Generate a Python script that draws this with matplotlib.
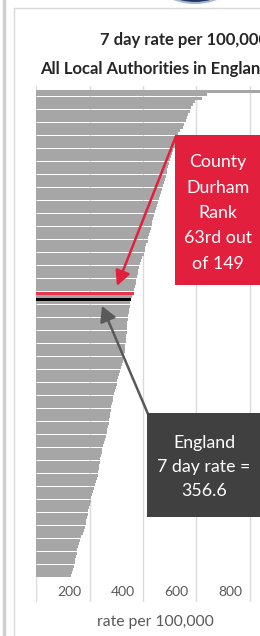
import matplotlib
matplotlib.use("Agg")
import matplotlib.pyplot as plt
import matplotlib.transforms as mtransforms
from matplotlib.patches import Rectangle, Ellipse
from matplotlib.lines import Line2D

plt.rcParams['font.family'] = ['Lato', 'DejaVu Sans']

# ---- data (7-day rate per 100,000, all 149 Local Authorities, sorted high to low) ----
la_rates = [884, 639, 621, 596, 586, 581, 576, 570, 564, 560,
            554, 549, 540, 531, 528, 524, 521, 518, 514, 510,
            506, 502, 499, 495, 491, 488, 485, 481, 477, 473,
            470, 466, 462, 459, 455, 452, 449, 446, 442, 439,
            435, 432, 429, 426, 423, 420, 417, 413, 409, 406,
            402, 398, 394, 390, 386, 383, 380, 378, 375, 372,
            370, 368, 365, 360,
            352, 350, 348, 346, 344, 343, 342, 341, 340, 339,
            338, 337, 335, 334, 333, 331, 329, 327, 324, 322,
            319, 315, 311, 307, 304, 301, 298, 295, 292, 289,
            286, 284, 282, 280, 278, 276, 274, 272, 270, 267,
            265, 261, 257, 254, 251, 248, 246, 244, 241, 239,
            237, 235, 233, 231, 228, 225, 221, 217, 213, 210,
            207, 204, 201, 198, 195, 193, 191, 188, 186, 183,
            179, 174, 169, 164, 160, 157, 155, 152, 150, 147,
            144, 141, 138, 135, 131]
durham_rank = 63
england_rate = 356.6
x_ticks = [200, 400, 600, 800]

title_lines = ["7 day rate per 100,000", "All Local Authorities in England"]
x_label = "rate per 100,000"
durham_text = "County\nDurham\nRank\n63rd out\nof 149"
england_text = "England\n7 day rate =\n356.6"

# ---- build rows (England inserted at its sorted position) ----
rows = []
for i, v in enumerate(la_rates):
    kind = 'durham' if i == durham_rank - 1 else 'la'
    rows.append((v, kind))
rows.append((england_rate, 'england'))
rows.sort(key=lambda t: -t[0])
values = [r[0] for r in rows]
colors = {'la': '#a6a6a6', 'durham': '#e8354f', 'england': '#000000'}
bar_colors = [colors[r[1]] for r in rows]

W, H = 260, 636
fig = plt.figure(figsize=(W / 100, H / 100), dpi=100)
fig.patch.set_facecolor('white')

def fx(px):
    return px / W

def fy(py):
    return (H - py) / H

# axes geometry (pixels)
ax_left, ax_top, ax_bottom = 36, 86, 602
px_per_unit = 0.2675
ax_right = ax_left + 1000 * px_per_unit
ax = fig.add_axes([fx(ax_left), fy(ax_bottom), (ax_right - ax_left) / W,
                   (ax_bottom - ax_top) / H])
ax.set_facecolor('none')

row_h = 3.25
first_row_top = 90
ax.set_xlim(0, 1000)
ax.set_ylim((ax_bottom - first_row_top) / row_h - 0.5,
            (ax_top - first_row_top) / row_h - 0.5)

for xv in [0] + x_ticks:
    ax.axvline(xv, color='#dadada', lw=1, zorder=0)

ypos = list(range(len(values)))
ax.barh(ypos, values, height=0.86, color=bar_colors, linewidth=0, zorder=2)

for s in ax.spines.values():
    s.set_visible(False)
ax.set_xticks([])
ax.set_yticks([])

label_row = (592 - first_row_top) / row_h - 0.5
off = mtransforms.offset_copy(ax.transData, fig=fig, x=-8, y=0, units='dots')
for t in x_ticks:
    ax.text(t, label_row, str(t), transform=off, ha='right', va='center',
            fontsize=10, color='#595959')

# ---- texts ----
fig.text(fx(100), fy(40), title_lines[0], ha='left', va='center',
         fontsize=12, fontweight='bold', color='#262626')
fig.text(fx(40), fy(69), title_lines[1], ha='left', va='center',
         fontsize=12, fontweight='bold', color='#262626')
fig.text(fx(155), fy(622), x_label, ha='center', va='center',
         fontsize=11.3, color='#595959')

# ---- annotation boxes ----
fig.add_artist(Rectangle((fx(175), fy(285)), fx(100), (285 - 135) / H,
                         transform=fig.transFigure, facecolor='#e21f3d',
                         edgecolor='none', zorder=5))
fig.text(fx(218), fy(213), durham_text, ha='center', va='center', fontsize=12.8,
         color='white', linespacing=1.72, zorder=6)

fig.add_artist(Rectangle((fx(147), fy(517)), fx(130), (517 - 413) / H,
                         transform=fig.transFigure, facecolor='#404040',
                         edgecolor='none', zorder=5))
fig.text(fx(204), fy(467), england_text, ha='center', va='center', fontsize=12.8,
         color='white', linespacing=1.65, zorder=6)

# arrows
ax.annotate('', xy=(117, H - 286), xycoords='figure pixels',
            xytext=(176, H - 136), textcoords='figure pixels',
            arrowprops=dict(arrowstyle='-|>,head_length=0.9,head_width=0.45',
                            color='#e21f3d', lw=1.8, shrinkA=0, shrinkB=0),
            zorder=7, annotation_clip=False)
ax.annotate('', xy=(102, H - 306), xycoords='figure pixels',
            xytext=(148, H - 414), textcoords='figure pixels',
            arrowprops=dict(arrowstyle='-|>,head_length=0.9,head_width=0.5',
                            color='#595959', lw=1.8, shrinkA=0, shrinkB=0),
            zorder=7, annotation_clip=False)

# ---- frame decorations ----
fig.add_artist(Line2D([fx(4), fx(4)], [0, 1], transform=fig.transFigure,
                      color='#cfcfcf', lw=2.5))
fig.add_artist(Line2D([fx(14), fx(14)], [0, fy(8)], transform=fig.transFigure,
                      color='#d9d9d9', lw=1))
fig.add_artist(Line2D([fx(14), 1], [fy(8), fy(8)], transform=fig.transFigure,
                      color='#d9d9d9', lw=1))
fig.add_artist(Ellipse((fx(195), fy(-30)), fx(90), 66 / H,
                       transform=fig.transFigure, facecolor='#1f3864',
                       edgecolor='#a9b7cf', lw=1.5))

fig.savefig('out.png', dpi=100)
